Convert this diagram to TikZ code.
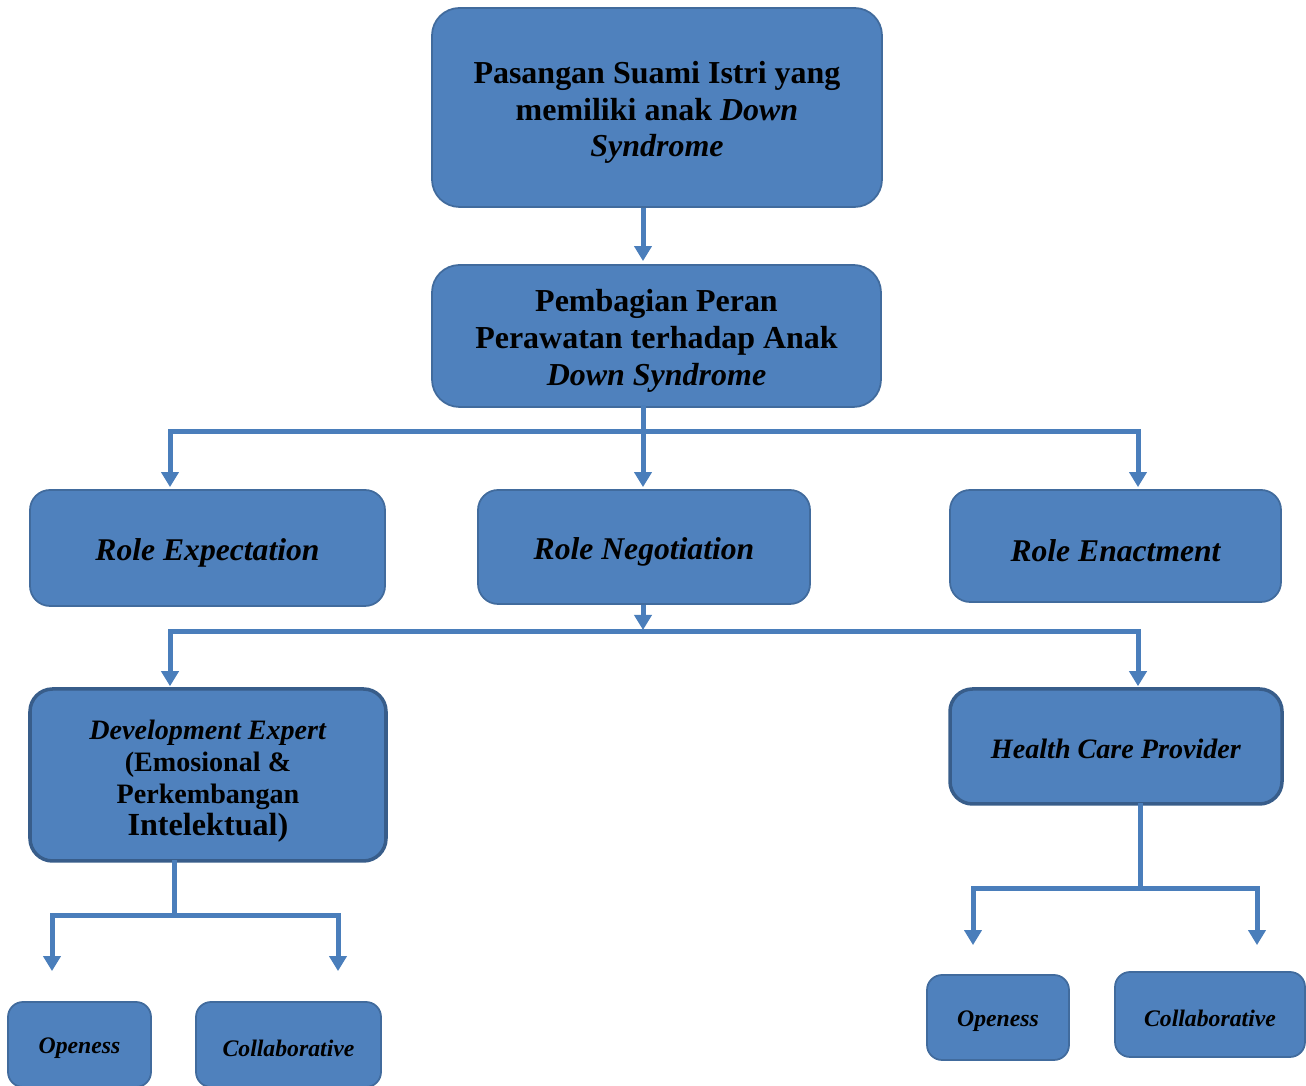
\documentclass[tikz,border=0pt]{standalone}
\usepackage{fontspec}
\setmainfont{Liberation Serif}
\usetikzlibrary{arrows.meta, positioning}
\definecolor{boxblue}{RGB}{79,129,189}
\definecolor{boxedge}{RGB}{65,107,157}
\definecolor{boxdeep}{RGB}{56,93,138}
\definecolor{linkblue}{RGB}{74,126,187}
\newcommand{\topstrut}[1]{\rule{0pt}{#1em}}
\tikzset{
  mainbox/.style={rectangle, draw=boxedge, fill=boxblue, align=center,
    rounded corners=0.55cm, line width=1pt, inner sep=2pt,
    font=\fontsize{18.2}{20.8}\selectfont\bfseries},
  rolebox/.style={rectangle, draw=boxedge, fill=boxblue, align=center,
    rounded corners=0.4cm, line width=1pt, inner sep=2pt,
    execute at begin node={\rule{0pt}{1em}},
    font=\fontsize{18}{21}\selectfont\bfseries\itshape},
  subbox/.style={rectangle, draw=boxdeep, fill=boxblue, align=center,
    rounded corners=0.45cm, line width=2pt, inner sep=2pt,
    font=\fontsize{16}{18.2}\selectfont\bfseries},
  leafbox/.style={rectangle, draw=boxedge, fill=boxblue, align=center,
    rounded corners=0.3cm, line width=1pt, inner sep=2pt,
    execute at begin node={\rule{0pt}{1em}},
    minimum height=1.7cm, font=\fontsize{13.5}{16}\selectfont\bfseries\itshape},
  arrow/.style={-{Triangle[length=0.3cm, width=0.34cm]}, line width=0.1cm, color=linkblue},
  line/.style={line width=0.1cm, color=linkblue, line cap=rect}
}

\begin{document}
\begin{tikzpicture}
  \useasboundingbox (0,0) rectangle (26.12,21.72);

  % upper part
  \node[mainbox, minimum width=9cm, minimum height=3.98cm] (pasangan) at (13.14,19.57)
    {\topstrut{1}Pasangan Suami Istri yang\\ memiliki anak \textit{Down}\\ \textit{Syndrome}};
  \node[mainbox, minimum width=8.98cm, minimum height=2.84cm] (pembagian) at (13.13,15.0)
    {\topstrut{1}Pembagian Peran\\ Perawatan terhadap Anak\\ \textit{Down Syndrome}};

  \node[rolebox, minimum width=7.1cm, minimum height=2.32cm] (expect) at (4.15,10.76) {Role Expectation};
  \node[rolebox, minimum width=6.64cm, minimum height=2.28cm] (negot) at (12.88,10.78) {Role Negotiation};
  \node[rolebox, minimum width=6.62cm, minimum height=2.24cm] (enact) at (22.31,10.8) {Role Enactment};

  % lower part
  \node[subbox, minimum width=7.12cm, minimum height=3.44cm] (devexp) at (4.16,6.22)
    {\topstrut{1.1}\textit{Development Expert}\\ (Emosional \&\\ Perkembangan\\ {\fontsize{18.3}{20}\selectfont Intelektual)}};
  \node[subbox, minimum width=6.64cm, minimum height=2.3cm] (health) at (22.32,6.79)
    {\topstrut{0.9}\textit{Health Care Provider}};

  \node[leafbox, minimum width=2.86cm] (open1) at (1.59,0.83) {Openess};
  \node[leafbox, minimum width=3.7cm] (coll1) at (5.77,0.83) {Collaborative};
  \node[leafbox, minimum width=2.84cm] (open2) at (19.96,1.37) {Openess};
  \node[leafbox, minimum width=3.8cm] (coll2) at (24.2,1.43) {Collaborative};

  % junctions
  \coordinate (busa) at (12.86,13.08);
  \coordinate (busal) at (3.4,13.08);
  \coordinate (busar) at (22.76,13.08);
  \coordinate (busb) at (12.86,9.08);
  \coordinate (busbl) at (3.4,9.08);
  \coordinate (busbr) at (22.76,9.08);
  \coordinate (busc) at (3.48,3.4);
  \coordinate (buscl) at (1.04,3.4);
  \coordinate (buscr) at (6.76,3.4);
  \coordinate (busd) at (22.8,3.94);
  \coordinate (busdl) at (19.46,3.94);
  \coordinate (busdr) at (25.14,3.94);

  \draw[arrow] (pasangan.south -| busa) -- ([yshift=0.06cm]pembagian.north -| busa);

  \draw[line] (pembagian.south -| busa) -- (busa);
  \draw[line] (busal) -- (busar);
  \draw[arrow] (busal) -- ([yshift=0.04cm]expect.north -| busal);
  \draw[arrow] (busa) -- ([yshift=0.04cm]negot.north -| busa);
  \draw[arrow] (busar) -- ([yshift=0.04cm]enact.north -| busar);

  \draw[arrow] (negot.south -| busb) -- ([yshift=0.04cm]busb);
  \draw[line] (busbl) -- (busbr);
  \draw[arrow] (busbl) -- ([yshift=0.02cm]devexp.north -| busbl);
  \draw[arrow] (busbr) -- ([yshift=0.02cm]health.north -| busbr);

  \draw[line] (devexp.south -| busc) -- (busc);
  \draw[line] (buscl) -- (buscr);
  \draw[arrow] (buscl) -- ([yshift=0.6cm]open1.north -| buscl);
  \draw[arrow] (buscr) -- ([yshift=0.6cm]coll1.north -| buscr);

  \draw[line] (health.south -| busd) -- (busd);
  \draw[line] (busdl) -- (busdr);
  \draw[arrow] (busdl) -- ([yshift=0.58cm]open2.north -| busdl);
  \draw[arrow] (busdr) -- ([yshift=0.52cm]coll2.north -| busdr);
\end{tikzpicture}
\end{document}
